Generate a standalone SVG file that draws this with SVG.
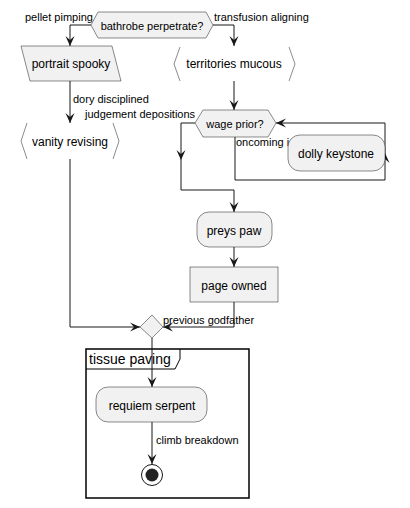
<svg xmlns="http://www.w3.org/2000/svg" width="410" height="508" viewBox="0 0 410 508">
<style>
  .node { fill: #F1F1F1; stroke: #181818; stroke-width: 0.5; }
  .ln { fill: none; stroke: #181818; stroke-width: 1; }
  .t12 { font-family: "Liberation Sans", Arial, sans-serif; font-size: 12px; fill: #000; }
  .t11 { font-family: "Liberation Sans", Arial, sans-serif; font-size: 11px; fill: #000; }
  .t14 { font-family: "Liberation Sans", Arial, sans-serif; font-size: 14px; fill: #000; }
  .c { text-anchor: middle; }
</style>
<defs>
  <marker id="arr" viewBox="0 0 10 10" refX="10" refY="5" markerWidth="10" markerHeight="10" orient="auto" markerUnits="userSpaceOnUse">
    <path d="M0,0.5 L10,5 L0,9.5 L4,5 Z" fill="#181818"/>
  </marker>
</defs>

<g id="partition-tissue-paving">
  <rect x="86" y="349" width="163" height="149" fill="none" stroke="#000" stroke-width="1.5"/>
  <path d="M86,369 H175 L180,359 V349" fill="none" stroke="#000" stroke-width="1"/>
  <text class="t14" x="89" y="364">tissue paving</text>
</g>

<g id="connectors">
  <path class="ln" d="M91,25 H70 V46" marker-end="url(#arr)"/>
  <path class="ln" d="M213,25 H234 V46" marker-end="url(#arr)"/>
  <path class="ln" d="M70,81 V123" marker-end="url(#arr)"/>
  <path class="ln" d="M234,81 V110" marker-end="url(#arr)"/>
  <path class="ln" d="M195,123 H181 V160" marker-end="url(#arr)"/>
  <path class="ln" d="M181,160 V190 H234 V212" marker-end="url(#arr)"/>
  <path class="ln" d="M235,137 V180 H385 V153" marker-end="url(#arr)"/>
  <path class="ln" d="M385,153 V123 H276" marker-end="url(#arr)"/>
  <path class="ln" d="M234,247 V267" marker-end="url(#arr)"/>
  <path class="ln" d="M234,302 V327 H163" marker-end="url(#arr)"/>
  <path class="ln" d="M70,159 V327 H140" marker-end="url(#arr)"/>
  <path class="ln" d="M152,338 V387" marker-end="url(#arr)"/>
  <path class="ln" d="M152,422 V464" marker-end="url(#arr)"/>
  <text class="t11" x="25" y="21">pellet pimping</text>
  <text class="t11" x="214" y="21">transfusion aligning</text>
  <text class="t11" x="73" y="103">dory disciplined</text>
  <text class="t11" x="85" y="118">judgement depositions</text>
  <text class="t11" x="236" y="146">oncoming i</text>
  <text class="t11" x="163" y="324">previous godfather</text>
  <text class="t11" x="156" y="444">climb breakdown</text>
</g>

<g id="bathrobe-perpetrate">
  <polygon class="node" points="91,25 98,12 206,12 213,25 206,38 98,38"/>
  <text class="t11 c" x="152" y="30">bathrobe perpetrate?</text>
</g>

<g id="portrait-spooky">
  <polygon class="node" points="21,46 112,46 121,81 30,81"/>
  <text class="t12 c" x="71" y="68">portrait spooky</text>
</g>

<g id="territories-mucous">
  <path d="M180,47 L174,64 L180,81" fill="none" stroke="#181818" stroke-width="0.5"/>
  <path d="M289,47 L295,64 L289,81" fill="none" stroke="#181818" stroke-width="0.5"/>
  <text class="t12 c" x="234" y="68">territories mucous</text>
</g>

<g id="vanity-revising">
  <path d="M27,123 L21,141 L27,159" fill="none" stroke="#181818" stroke-width="0.5"/>
  <path d="M113,123 L119,141 L113,159" fill="none" stroke="#181818" stroke-width="0.5"/>
  <text class="t12 c" x="70" y="146">vanity revising</text>
</g>

<g id="wage-prior">
  <polygon class="node" points="195,123 203,110 268,110 276,123 268,137 203,137"/>
  <text class="t11 c" x="235" y="128">wage prior?</text>
</g>

<g id="dolly-keystone">
  <rect class="node" x="288" y="135" width="97" height="36" rx="12" ry="12"/>
  <text class="t12 c" x="336" y="158">dolly keystone</text>
</g>

<g id="preys-paw">
  <rect class="node" x="197" y="212" width="75" height="35" rx="12" ry="12"/>
  <text class="t12 c" x="234" y="235">preys paw</text>
</g>

<g id="page-owned">
  <rect class="node" x="190" y="267" width="88" height="35"/>
  <text class="t12 c" x="234" y="290">page owned</text>
</g>

<g id="merge">
  <polygon class="node" points="152,315 163,327 152,338 140,327"/>
</g>

<g id="requiem-serpent">
  <rect class="node" x="96" y="387" width="111" height="35" rx="12" ry="12"/>
  <text class="t12 c" x="152" y="410">requiem serpent</text>
</g>

<g id="end">
  <circle cx="152" cy="475" r="10.5" fill="none" stroke="#181818" stroke-width="1"/>
  <circle cx="152" cy="475" r="6.5" fill="#222222"/>
</g>
</svg>
